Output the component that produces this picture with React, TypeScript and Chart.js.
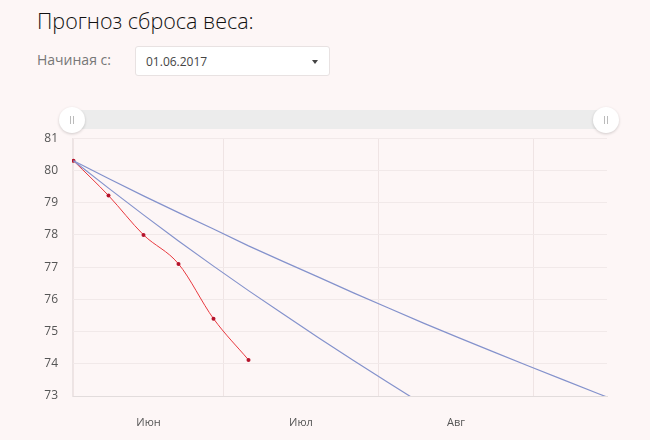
import { useEffect, useRef } from 'react';
import { Chart, registerables } from 'chart.js';

Chart.register(...registerables);

// days counted from 01.06.2017
const factDays = [0, 7, 14, 21, 28, 35];
const factWeight = [80.3, 79.22, 78.0, 77.1, 75.4, 74.12];

const fastDays = [0, 7, 14, 21, 28, 35, 42, 49, 56, 63, 70];
const fastWeight = [80.3, 79.45, 78.62, 77.81, 77.03, 76.27, 75.54, 74.81, 74.1, 73.41, 72.73];

const slowDays = [0, 7, 14, 21, 28, 35, 42, 49, 56, 63, 70, 77, 84, 91, 98, 105, 112];
const slowWeight = [
  80.3, 79.75, 79.21, 78.69, 78.18, 77.66, 77.17, 76.69, 76.2, 75.73, 75.26, 74.81, 74.37,
  73.93, 73.5, 73.07, 72.65,
];

// month boundaries (grid lines) and month centres (labels)
const monthEdges = [0, 30, 61, 92];
const monthMids = [15, 45.5, 76.5];
const monthLabels = ['Июн', 'Июл', 'Авг'];

const yTicks = [73, 74, 75, 76, 77, 78, 79, 80, 81];

const toPoints = (days: number[], vals: number[]) =>
  days.map((d, i) => ({ x: d, y: vals[i] }));

const FONT = '"Open Sans", sans-serif';

const Handle = ({ left }: { left: number }) => (
  <div
    style={{
      position: 'absolute',
      left: left - 13,
      top: 107,
      width: 26,
      height: 26,
      borderRadius: '50%',
      background: '#fff',
      boxShadow: '0 1px 3px rgba(0,0,0,0.18)',
    }}
  >
    <div style={{ position: 'absolute', left: 11, top: 9, width: 1, height: 8, background: '#bbb' }} />
    <div style={{ position: 'absolute', left: 14, top: 9, width: 1, height: 8, background: '#bbb' }} />
  </div>
);

const App = () => {
  const chartRef = useRef<HTMLCanvasElement | null>(null);
  const chartInstance = useRef<Chart | null>(null);

  useEffect(() => {
    document.body.style.margin = '0';
    if (!chartRef.current) return;
    const ctx = chartRef.current.getContext('2d');
    if (!ctx) return;
    if (chartInstance.current) chartInstance.current.destroy();

    const xTickValues = [...monthEdges, ...monthMids].sort((a, b) => a - b);

    chartInstance.current = new Chart(ctx, {
      type: 'line',
      data: {
        datasets: [
          {
            data: toPoints(slowDays, slowWeight),
            borderColor: '#8492cc',
            borderWidth: 1.2,
            pointRadius: 0,
            tension: 0,
          },
          {
            data: toPoints(fastDays, fastWeight),
            borderColor: '#8492cc',
            borderWidth: 1.2,
            pointRadius: 0,
            tension: 0,
          },
          {
            data: toPoints(factDays, factWeight),
            borderColor: '#e8393f',
            borderWidth: 1,
            pointRadius: 2,
            pointBackgroundColor: '#b5132b',
            pointBorderColor: '#b5132b',
            pointBorderWidth: 0,
            cubicInterpolationMode: 'monotone',
          },
        ],
      },
      options: {
        animation: false,
        responsive: false,
        maintainAspectRatio: false,
        layout: { padding: { left: 0, right: 43, top: 4, bottom: 0 } },
        plugins: { legend: { display: false }, tooltip: { enabled: false } },
        scales: {
          x: {
            type: 'linear',
            min: -0.3,
            max: 106.7,
            afterBuildTicks: (scale: any) => {
              scale.ticks = xTickValues.map((v) => ({ value: v }));
            },
            afterFit: (scale: any) => {
              scale.height = 44;
            },
            grid: {
              drawTicks: false,
              color: (c: any) =>
                c.tick && monthEdges.includes(c.tick.value) ? '#efe4e4' : 'rgba(0,0,0,0)',
            },
            border: { color: '#e2dcdc' },
            ticks: {
              autoSkip: false,
              maxRotation: 0,
              padding: 20,
              color: '#555',
              font: { family: FONT, size: 11 },
              callback: (v: any) => {
                const i = monthMids.indexOf(Number(v));
                return i >= 0 ? monthLabels[i] : '';
              },
            },
          },
          y: {
            min: 73,
            max: 81,
            afterBuildTicks: (scale: any) => {
              scale.ticks = yTicks.map((v) => ({ value: v }));
            },
            afterFit: (scale: any) => {
              scale.width = 72;
            },
            grid: { drawTicks: false, color: '#f1e9e9' },
            border: { color: '#ece4e4' },
            ticks: {
              padding: 14,
              color: '#555',
              font: { family: FONT, size: 12 },
            },
          },
        },
      },
    } as any);

    return () => {
      if (chartInstance.current) {
        chartInstance.current.destroy();
        chartInstance.current = null;
      }
    };
  }, []);

  return (
    <div
      style={{
        position: 'relative',
        width: 650,
        height: 440,
        background: '#fdf6f6',
        fontFamily: FONT,
        overflow: 'hidden',
      }}
    >
      <div
        style={{
          position: 'absolute',
          left: 37,
          top: 6,
          fontSize: 21.5,
          fontWeight: 300,
          color: '#111',
          whiteSpace: 'nowrap',
        }}
      >
        Прогноз сброса веса:
      </div>
      <div style={{ position: 'absolute', left: 37, top: 50, fontSize: 14, color: '#777' }}>
        Начиная с:
      </div>
      <div
        style={{
          position: 'absolute',
          left: 135,
          top: 46,
          width: 193,
          height: 28,
          background: '#fff',
          border: '1px solid #e8e2e2',
          borderRadius: 3,
        }}
      >
        <div style={{ position: 'absolute', left: 10, top: 6, fontSize: 12, color: '#444' }}>
          01.06.2017
        </div>
        <div
          style={{
            position: 'absolute',
            left: 176,
            top: 13,
            width: 0,
            height: 0,
            borderLeft: '3.5px solid transparent',
            borderRight: '3.5px solid transparent',
            borderTop: '4px solid #444',
          }}
        />
      </div>
      <div
        style={{
          position: 'absolute',
          left: 72,
          top: 110,
          width: 534,
          height: 19,
          background: '#ececec',
        }}
      />
      <canvas
        ref={chartRef}
        width={650}
        height={323}
        style={{ position: 'absolute', left: 0, top: 117, width: 650, height: 323 }}
      />
      <Handle left={72} />
      <Handle left={606} />
    </div>
  );
};

export default App;
